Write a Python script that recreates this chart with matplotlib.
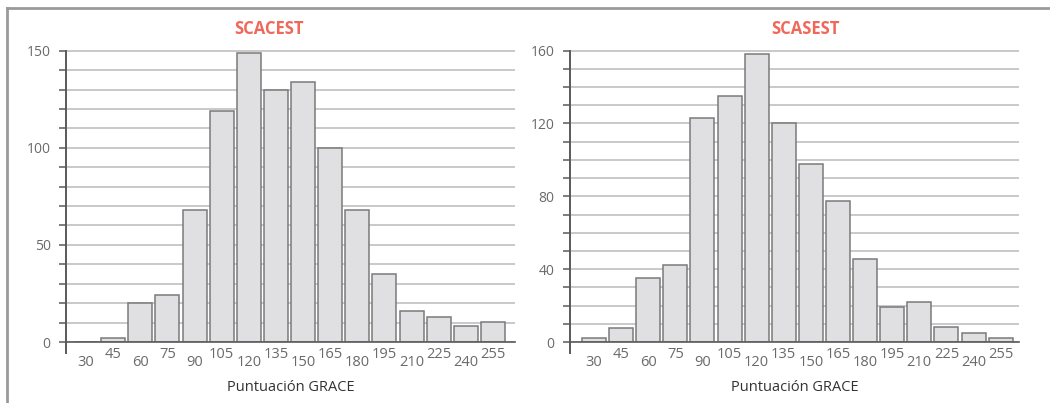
import matplotlib
matplotlib.use("Agg")
import matplotlib.pyplot as plt
from matplotlib.lines import Line2D
from matplotlib.ticker import MultipleLocator

plt.rcParams["font.family"] = ["Open Sans", "DejaVu Sans"]

# ── datos ─────────────────────────────────────────────
grace = [30, 45, 60, 75, 90, 105, 120, 135, 150, 165, 180, 195, 210, 225, 240, 255]
scacest = [0, 2, 20, 24, 68, 119, 149, 130, 134, 100, 68, 35, 16, 13, 8, 10.5]
scasest = [2, 7.5, 35, 42.5, 123, 135, 158, 120, 98, 77.5, 45.5, 19, 22, 8, 5, 2]

W, H = 1050, 403
fig = plt.figure(figsize=(W / 100, H / 100), dpi=100)

TITLE_C = "#F0685A"
AXIS_C = "#5a5a5a"
GRID_C = "#c0c0c0"
TXT_C = "#6a6a6a"


def px_box(x0, x1, y_top, y_bot):
    return [x0 / W, 1 - y_bot / H, (x1 - x0) / W, (y_bot - y_top) / H]


def draw(ax, values, ymax, major, xlim, title, title_x, spine_low):
    ax.bar(grace, values, width=13.3, color="#e0e0e2", edgecolor="#7a7a7a",
           linewidth=1.1, zorder=2)
    ax.set_xlim(*xlim)
    ax.set_ylim(0, ymax + 1)
    ax.set_axisbelow(True)

    ax.yaxis.set_major_locator(MultipleLocator(major))
    ax.yaxis.set_minor_locator(MultipleLocator(10))
    ax.grid(True, axis="y", which="both", color=GRID_C, linewidth=1.2)
    ax.tick_params(axis="y", which="both", length=5, width=1.1, color=AXIS_C,
                   labelsize=10, labelcolor=TXT_C, pad=6)

    # etiquetas del eje x alternadas
    ax.set_xticks(grace[0::2])
    ax.set_xticklabels([str(g) for g in grace[0::2]])
    ax.set_xticks(grace[1::2], minor=True)
    ax.set_xticklabels([str(g) for g in grace[1::2]], minor=True)
    ax.tick_params(axis="x", which="major", length=0, pad=9.5, labelsize=10.5,
                   labelcolor=TXT_C)
    ax.tick_params(axis="x", which="minor", length=0, pad=3.5, labelsize=10.5,
                   labelcolor=TXT_C)

    for s in ("top", "right"):
        ax.spines[s].set_visible(False)
    ax.spines["left"].set_color(AXIS_C)
    ax.spines["left"].set_linewidth(1.4)
    ax.spines["left"].set_bounds(spine_low, ymax)
    ax.spines["bottom"].set_color(AXIS_C)
    ax.spines["bottom"].set_linewidth(1.2)

    ax.set_xlabel("Puntuación GRACE", fontsize=10.5, color="#333333", labelpad=7)
    fig.text(title_x / W, 1 - 29 / H, title, ha="center", va="center",
             fontsize=12, fontweight="bold", color=TITLE_C)


ax1 = fig.add_axes(px_box(66, 515, 48.8, 342))
draw(ax1, scacest, 150, 50, (18.9, 267.2), "SCACEST", 269, -5.7)

ax2 = fig.add_axes(px_box(570, 1018.7, 48.8, 342))
draw(ax2, scasest, 160, 40, (16.7, 265.0), "SCASEST", 805, -6)

# marco gris
fig.add_artist(Line2D([7 / W, 1], [1 - 8 / H, 1 - 8 / H], color="#9a9a9a", linewidth=2))
fig.add_artist(Line2D([7 / W, 7 / W], [0, 1 - 8 / H], color="#9a9a9a", linewidth=2))

fig.savefig("out.png", dpi=100)
